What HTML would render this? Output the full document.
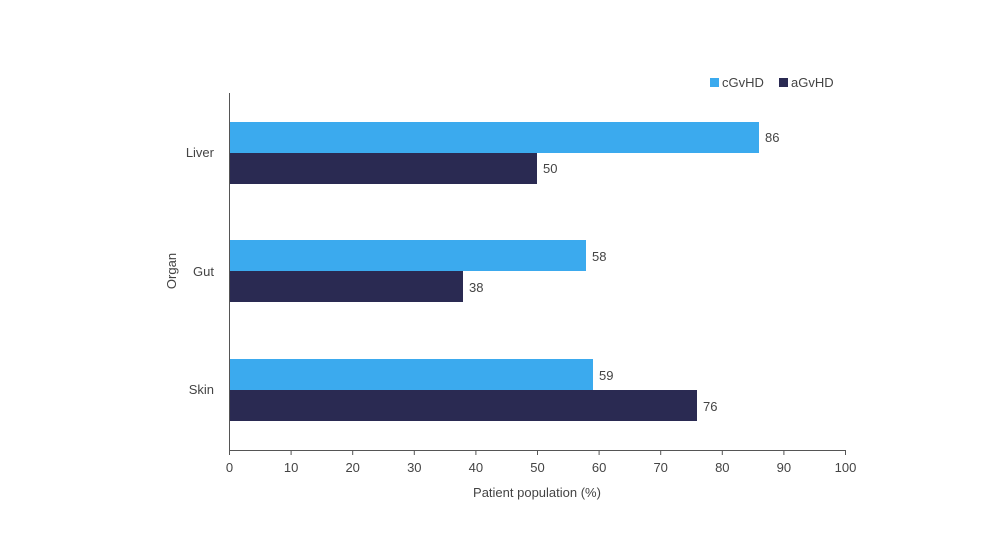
<!DOCTYPE html>
<html><head><meta charset="utf-8"><style>
html,body{margin:0;padding:0;background:#fff;}
svg{display:block;font-family:"Liberation Sans",sans-serif;}
</style></head><body>
<svg width="1000" height="552" viewBox="0 0 1000 552">
<g fill="#3baaee">
<rect x="229" y="122" width="530" height="31"/>
<rect x="229" y="240" width="357" height="31"/>
<rect x="229" y="359" width="364" height="31"/>
<rect x="710" y="78" width="9" height="9"/>
</g>
<g fill="#2a2a52">
<rect x="229" y="153" width="308" height="31"/>
<rect x="229" y="271" width="234" height="31"/>
<rect x="229" y="390" width="468" height="31"/>
<rect x="779" y="78" width="9" height="9"/>
</g>
<g stroke="#555" stroke-width="1" fill="none">
<line x1="229.5" y1="93" x2="229.5" y2="450"/>
<line x1="229" y1="450.5" x2="846" y2="450.5"/>
<path d="M229.5 450v5M291.1 450v5M352.7 450v5M414.3 450v5M475.9 450v5M537.5 450v5M599.1 450v5M660.7 450v5M722.3 450v5M783.9 450v5M845.5 450v5"/>
</g>
<g font-size="13" fill="#444">
<text x="722" y="87">cGvHD</text>
<text x="791" y="87">aGvHD</text>
<g text-anchor="start">
<text x="765" y="142">86</text>
<text x="543" y="173">50</text>
<text x="592" y="261">58</text>
<text x="469" y="292">38</text>
<text x="599" y="380">59</text>
<text x="703" y="411">76</text>
</g>
<g text-anchor="end">
<text x="214" y="157">Liver</text>
<text x="214" y="276">Gut</text>
<text x="214" y="394">Skin</text>
</g>
<g text-anchor="middle">
<text x="229.5" y="472">0</text><text x="291.1" y="472">10</text><text x="352.7" y="472">20</text>
<text x="414.3" y="472">30</text><text x="475.9" y="472">40</text><text x="537.5" y="472">50</text>
<text x="599.1" y="472">60</text><text x="660.7" y="472">70</text><text x="722.3" y="472">80</text>
<text x="783.9" y="472">90</text><text x="845.5" y="472">100</text>
<text x="537" y="497">Patient population (%)</text>
<text transform="translate(176,271) rotate(-90)">Organ</text>
</g>
</g>
</svg>
</body></html>
